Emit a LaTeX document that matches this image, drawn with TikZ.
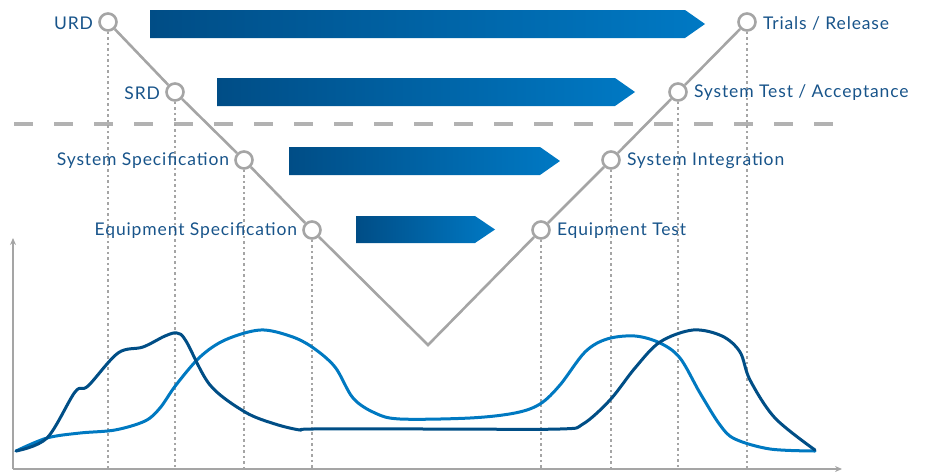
\documentclass[tikz,border=0pt]{standalone}
\usepackage{fontspec}
\setmainfont{Lato}[LetterSpace=5]
\usetikzlibrary{positioning,arrows.meta}

\definecolor{vtext}{RGB}{24,84,138}
\definecolor{vgray}{RGB}{165,165,165}
\definecolor{darkcurve}{RGB}{0,78,134}
\definecolor{lightcurve}{RGB}{0,121,193}
\definecolor{barleft}{RGB}{0,77,134}
\definecolor{barright}{RGB}{0,121,196}

\tikzset{
  stage/.style={circle, draw=vgray, line width=2.6pt, fill=white, minimum size=17pt, inner sep=0pt},
  lbl/.style={text=vtext, font=\fontsize{17.5}{19}\selectfont, inner sep=1pt},
  vline/.style={vgray, line width=2.6pt},
  guide/.style={vgray, line width=1.1pt, dash pattern=on 2.5pt off 3pt},
  bar/.style={left color=barleft, right color=barright},
  curve/.style={line width=3pt, smooth, tension=0.55, line join=round, line cap=round}
}

\begin{document}
\begin{tikzpicture}[x=1pt, y=-1pt]
\useasboundingbox (0,0) rectangle (925,471);

% axes
\coordinate (orig) at (13,469);
\coordinate (ytop) at (13,238);
\coordinate (xend) at (842,469);
\draw[vgray, line width=1.4pt, -{Stealth[length=7pt, width=6pt]}] (orig) -- (ytop);
\draw[vgray, line width=1.4pt, -{Stealth[length=7pt, width=6pt]}] (orig) -- (xend);

% phase boundary
\coordinate (dleft) at (14,124);
\coordinate (dright) at (836,124);
\draw[vgray!85, line width=3.5pt, dash pattern=on 19pt off 21pt] (dleft) -- (dright);

% stages
\node[stage] (urd) at (108,22) {};
\node[stage] (srd) at (175,92) {};
\node[stage] (sysspec) at (244,160) {};
\node[stage] (eqspec) at (312,230) {};
\coordinate (vbottom) at (428,345);
\node[stage] (eqtest) at (541,230) {};
\node[stage] (sysint) at (611,160) {};
\node[stage] (systest) at (678,92) {};
\node[stage] (trials) at (747,22) {};

\foreach \s in {urd,srd,sysspec,eqspec,eqtest,sysint,systest,trials}
  \draw[guide] (\s.south) -- (\s.south |- orig);

\draw[vline] (urd) -- (srd) -- (sysspec) -- (eqspec) -- (vbottom) -- (eqtest) -- (sysint) -- (systest) -- (trials);

\node[lbl, left=4pt of urd, yshift=-1pt] (urdtxt) {URD};
\node[lbl, left=4pt of srd, yshift=-1pt] (srdtxt) {SRD};
\node[lbl, left=4pt of sysspec, yshift=-1pt] (sysspectxt) {System Specification};
\node[lbl, left=4pt of eqspec, yshift=-1pt] (eqspectxt) {Equipment Specification};
\node[lbl, right=5pt of eqtest, yshift=-1pt] (eqtesttxt) {Equipment Test};
\node[lbl, right=5pt of sysint, yshift=-1pt] (sysinttxt) {System Integration};
\node[lbl, right=5pt of systest, yshift=-1pt] (systesttxt) {System Test / Acceptance};
\node[lbl, right=5pt of trials, yshift=-1pt] (trialstxt) {Trials / Release};

% arrows between the legs
\shade[bar] (150,10) -- (685,10) -- (705,24) -- (685,38) -- (150,38) -- cycle;
\shade[bar] (217,78) -- (615,78) -- (635,92) -- (615,106) -- (217,106) -- cycle;
\shade[bar] (289,147) -- (540,147) -- (560,161) -- (540,175) -- (289,175) -- cycle;
\shade[bar] (356,216) -- (475,216) -- (495,229.5) -- (475,243) -- (356,243) -- cycle;

% effort curves
\draw[curve, lightcurve] plot coordinates {(16,451) (47,438) (80,433) (115,430) (145,421) (160,408) (176,385) (200,357) (225,340) (260,330) (290,336) (312,347) (335,367) (353,398) (375,413) (400,419) (470,418) (515,413) (540,404) (560,385) (585,352) (607,339) (635,336) (660,343) (680,358) (700,393) (720,425) (735,439) (770,449) (815,451)};
\draw[curve, darkcurve] plot coordinates {(16,451) (47,438) (75,392) (88,386) (118,353) (143,347) (165,336) (177,333) (186,341) (210,385) (245,412) (275,424) (300,430) (312,429) (440,429) (560,429) (583,424) (610,400) (635,368) (660,342) (693,330) (722,336) (740,352) (750,380) (775,418) (815,450)};

\end{tikzpicture}
\end{document}
